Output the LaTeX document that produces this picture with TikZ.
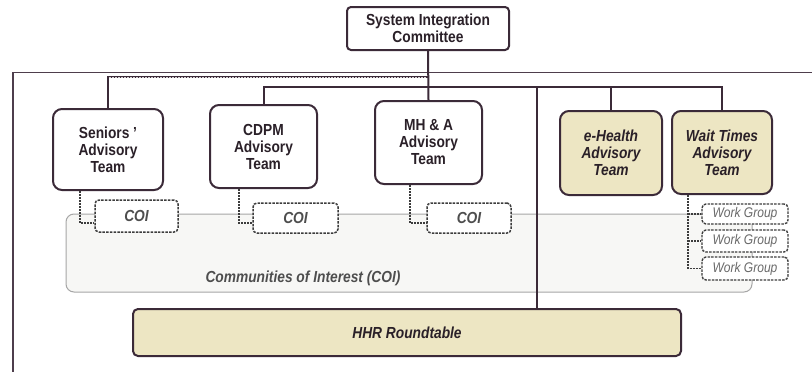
\documentclass[tikz,border=0pt]{standalone}
\usepackage{fontspec}
\setmainfont{Liberation Sans}[FakeStretch=0.86]
\definecolor{lc}{HTML}{3B2A38}
\definecolor{fc}{HTML}{4E3E4C}
\definecolor{beige}{HTML}{EDE6C3}
\definecolor{dg}{HTML}{3C3C3C}
\definecolor{rg}{HTML}{A6A6A6}
\definecolor{rf}{HTML}{F7F7F5}
\definecolor{txt}{HTML}{2A2028}
\definecolor{gtxt}{HTML}{4E4E4E}
\begin{document}
\begin{tikzpicture}[x=1pt,y=-1pt,
  team/.style={draw=lc, line width=2pt, rounded corners=9pt, fill=white, align=center,
    inner sep=0pt, text=txt, font=\fontsize{16}{17}\selectfont\bfseries},
  beigeteam/.style={team, fill=beige, font=\fontsize{16}{17}\selectfont\bfseries\itshape},
  sicbox/.style={team, rounded corners=4pt},
  hhrbox/.style={team, fill=beige, rounded corners=5pt, font=\fontsize{16}{17}\selectfont\bfseries\itshape},
  coibox/.style={draw=dg, line width=1.5pt, dash pattern=on 2.5pt off 1.2pt, rounded corners=4pt,
    fill=white, inner sep=0pt, text=gtxt, font=\fontsize{16}{17}\selectfont\bfseries\itshape},
  wgbox/.style={coibox, line width=1.4pt, text=gtxt!85, font=\fontsize{14}{15}\selectfont\itshape},
  region/.style={draw=rg, fill=rf, line width=1pt, rounded corners=8pt, inner sep=0pt},
  lbl/.style={inner sep=0pt, text=gtxt, font=\fontsize{16}{17}\selectfont\bfseries\itshape},
  conn/.style={draw=lc, line width=2pt},
  dconn/.style={draw=dg, line width=1.3pt, dash pattern=on 2pt off 1pt},
  hl/.style={draw=white!80!lc, line width=0.7pt, dash pattern=on 1.5pt off 1.5pt},
  framel/.style={draw=fc, line width=1.8pt}]
\useasboundingbox (0,0) rectangle (812,372);
\fill[white] (0,0) rectangle (812,372);

% outer frame
\coordinate (ftr) at (812,72.5);
\coordinate (ftl) at (13,72.5);
\coordinate (fbl) at (13,372);
\draw[framel] (ftr) -- (ftl) -- (fbl);

% communities of interest region
\node[region, minimum width=686pt, minimum height=78pt] (coir) at (409,253) {};
\node[lbl] (coilbl) at (303,278) {Communities of Interest (COI)};

% boxes
\node[sicbox, minimum width=162pt, minimum height=43pt] (sic) at (428,28.5) {System Integration\\Committee};
\node[team, minimum width=110pt, minimum height=81pt] (seniors) at (108,149.5) {Seniors '\\Advisory\\Team};
\node[team, minimum width=107pt, minimum height=83pt] (cdpm) at (263.5,146.5) {CDPM\\Advisory\\Team};
\node[team, minimum width=107pt, minimum height=83pt] (mha) at (428.5,142.5) {MH \& A\\Advisory\\Team};
\node[beigeteam, minimum width=102pt, minimum height=84pt] (ehealth) at (611,153) {e-Health\\Advisory\\Team};
\node[beigeteam, minimum width=100pt, minimum height=83pt] (wait) at (722,152.5) {Wait Times\\Advisory\\Team};

\node[coibox, minimum width=83pt, minimum height=32pt] (coi1) at (136.5,216) {COI};
\node[coibox, minimum width=85pt, minimum height=30pt] (coi2) at (295.5,218) {COI};
\node[coibox, minimum width=84pt, minimum height=30pt] (coi3) at (469,218) {COI};

\node[wgbox, minimum width=86pt, minimum height=20pt] (wg1) at (745,214) {Work Group};
\node[wgbox, minimum width=86pt, minimum height=22pt] (wg2) at (745,241) {Work Group};
\node[wgbox, minimum width=86pt, minimum height=23pt] (wg3) at (745,268.5) {Work Group};

\node[hhrbox, minimum width=548pt, minimum height=47pt] (hhr) at (407,332.5) {HHR Roundtable};

% trunk connectors
\coordinate (ja) at (428,77);
\coordinate (jb) at (537,87);
\draw[conn] (sic.south) -- (mha.north);
\draw[conn] (ja) -| (seniors.north);
\draw[conn] (cdpm.north) |- (jb) -| (wait.north);
\draw[conn] (ehealth.north) -- (ehealth.north |- jb);
\draw[conn] (jb) -- (jb |- hhr.north);
\draw[hl] ([xshift=1pt]seniors.north |- ja) -- ([xshift=-1pt]ja);

% dashed connectors to COI
\draw[dconn] ([xshift=-28pt]seniors.south) |- ([yshift=-7pt]coi1.west);
\draw[dconn] ([xshift=-24.5pt]cdpm.south) |- ([yshift=-5pt]coi2.west);
\draw[dconn] ([xshift=-18.5pt]mha.south) |- ([yshift=-5pt]coi3.west);

% work groups
\coordinate (wgt) at ([xshift=-34pt]wait.south);
\draw[dconn] (wgt) |- (wg3.west);
\draw[dconn] (wgt |- wg1.west) -- (wg1.west);
\draw[dconn] (wgt |- wg2.west) -- (wg2.west);
\end{tikzpicture}
\end{document}
